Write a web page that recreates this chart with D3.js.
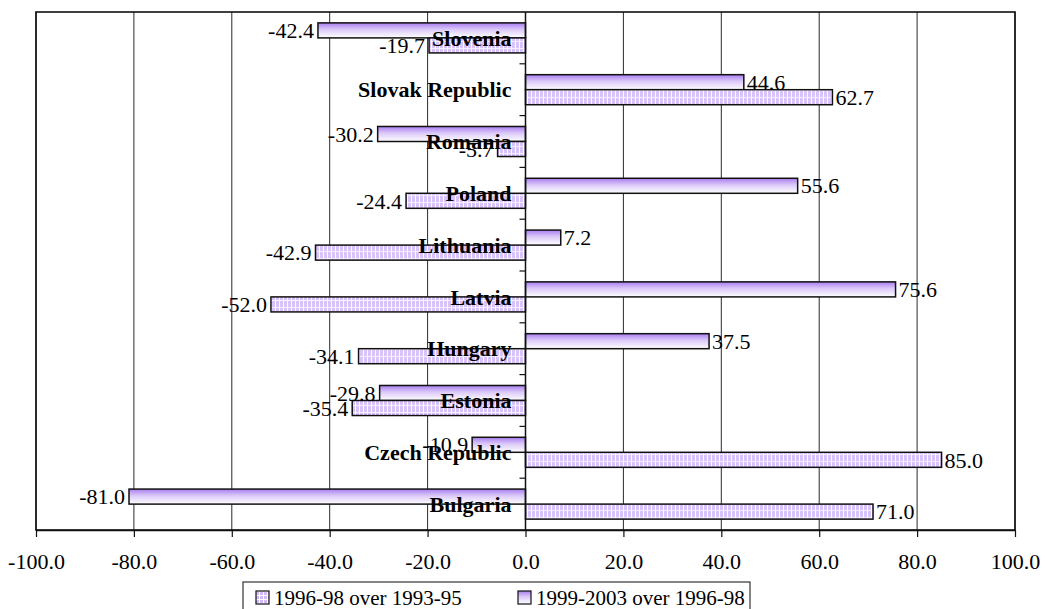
<!DOCTYPE html>
<html>
<head>
<meta charset="utf-8">
<script src="https://cdn.jsdelivr.net/npm/d3@7"></script>
<style>
  html, body { margin: 0; padding: 0; background: #fff; }
  svg { display: block; }
  text { font-family: "Liberation Serif", "Times New Roman", serif; fill: #000; }
</style>
</head>
<body>
<svg id="chart" width="1045" height="609"></svg>
<script>
// Countries, listed top to bottom
const categories = ["Slovenia", "Slovak Republic", "Romania", "Poland", "Lithuania",
                    "Latvia", "Hungary", "Estonia", "Czech Republic", "Bulgaria"];
// Percentage change, 1996-98 over 1993-95 (lower bar of each pair)
const change9698 = [-19.7, 62.7, -5.7, -24.4, -42.9, -52.0, -34.1, -35.4, 85.0, 71.0];
// Percentage change, 1999-2003 over 1996-98 (upper bar of each pair)
const change9903 = [-42.4, 44.6, -30.2, 55.6, 7.2, 75.6, 37.5, -29.8, -10.9, -81.0];
const seriesNames = ["1996-98 over 1993-95", "1999-2003 over 1996-98"];
const xTicks = [-100, -80, -60, -40, -20, 0, 20, 40, 60, 80, 100];

// One decimal, plain hyphen for negatives
const fmt = d3.formatLocale({ decimal: ".", thousands: ",", grouping: [3],
  currency: ["", ""], minus: "-" }).format(".1f");

const svg = d3.select("#chart");
const plot = { left: 36, right: 1015, top: 12, bottom: 530 };

const x = d3.scaleLinear().domain([-100, 100]).range([plot.left, plot.right]);
const y = d3.scaleBand().domain(categories).range([plot.top, plot.bottom])
  .paddingInner(0.42).paddingOuter(0.21);
// In each pair the 1999-2003 bar ("a") sits on top
const sub = d3.scaleBand().domain(["a", "b"]).range([0, y.bandwidth()]);

// Fills: gradient for the later period, lattice pattern for the earlier one
const defs = svg.append("defs");
const grad = defs.append("linearGradient").attr("id", "gradFill")
  .attr("x1", 0).attr("y1", 0).attr("x2", 0).attr("y2", 1);
grad.append("stop").attr("offset", "0%").attr("stop-color", "#a97df0");
grad.append("stop").attr("offset", "45%").attr("stop-color", "#dccaf9");
grad.append("stop").attr("offset", "100%").attr("stop-color", "#ffffff");

const pat = defs.append("pattern").attr("id", "gridFill")
  .attr("patternUnits", "userSpaceOnUse").attr("width", 4).attr("height", 7);
pat.append("rect").attr("width", 4).attr("height", 7).attr("fill", "#d8c3fa");
pat.append("rect").attr("x", 3).attr("width", 1).attr("height", 7).attr("fill", "#ffffff");
pat.append("rect").attr("y", 6).attr("width", 4).attr("height", 1).attr("fill", "#f4eefe");

const legPat = defs.append("pattern").attr("id", "gridFillLegend")
  .attr("patternUnits", "userSpaceOnUse").attr("width", 4).attr("height", 4);
legPat.append("rect").attr("width", 4).attr("height", 4).attr("fill", "#d2b9f9");
legPat.append("rect").attr("x", 3).attr("width", 1).attr("height", 4).attr("fill", "#ffffff");
legPat.append("rect").attr("y", 3).attr("width", 4).attr("height", 1).attr("fill", "#ffffff");

// Vertical gridlines
svg.append("g").selectAll("line").data(xTicks).join("line")
  .attr("x1", d => x(d)).attr("x2", d => x(d))
  .attr("y1", plot.top).attr("y2", plot.bottom)
  .attr("stroke", "#2a2a2a").attr("stroke-width", 1);

// Plot frame
svg.append("rect").attr("x", plot.left).attr("y", plot.top)
  .attr("width", plot.right - plot.left).attr("height", plot.bottom - plot.top)
  .attr("fill", "none").attr("stroke", "#111").attr("stroke-width", 1.6);

// Bars
const barData = [];
categories.forEach((c, i) => {
  barData.push({ c, key: "a", v: change9903[i] });
  barData.push({ c, key: "b", v: change9698[i] });
});

svg.append("g").selectAll("rect").data(barData).join("rect")
  .attr("x", d => x(Math.min(0, d.v)))
  .attr("y", d => y(d.c) + sub(d.key))
  .attr("width", d => Math.abs(x(d.v) - x(0)))
  .attr("height", sub.bandwidth())
  .attr("fill", d => d.key === "a" ? "url(#gradFill)" : "url(#gridFill)")
  .attr("stroke", "#111").attr("stroke-width", 1.5);

// Category axis at zero with ticks between countries
svg.append("line").attr("x1", x(0)).attr("x2", x(0))
  .attr("y1", plot.top).attr("y2", plot.bottom)
  .attr("stroke", "#111").attr("stroke-width", 1.5);
const bounds = categories.map(c => y(c) - y.step() * y.paddingInner() / 2).slice(1);
svg.append("g").selectAll("line").data(bounds).join("line")
  .attr("x1", x(0) - 6).attr("x2", x(0))
  .attr("y1", d => d).attr("y2", d => d)
  .attr("stroke", "#111").attr("stroke-width", 1.2);

// Value labels
svg.append("g").selectAll("text").data(barData).join("text")
  .attr("x", d => d.v < 0 ? x(d.v) - 4 : x(d.v) + 3)
  .attr("y", d => y(d.c) + sub(d.key) + sub.bandwidth() / 2)
  .attr("dy", "0.35em")
  .attr("text-anchor", d => d.v < 0 ? "end" : "start")
  .style("font-size", "22px")
  .text(d => fmt(d.v));

// Country names
svg.append("g").selectAll("text").data(categories).join("text")
  .attr("x", x(0) - 14)
  .attr("y", d => y(d) + y.bandwidth() / 2)
  .attr("dy", "0.35em")
  .attr("text-anchor", "end")
  .style("font-size", "22px").style("font-weight", "bold")
  .text(d => d);

// Value axis
const xAxis = d3.axisBottom(x).tickValues(xTicks).tickFormat(fmt)
  .tickSize(7).tickSizeOuter(0);
const gx = svg.append("g").attr("transform", `translate(0,${plot.bottom})`).call(xAxis);
gx.select(".domain").attr("stroke", "#111").attr("stroke-width", 1.6);
gx.selectAll(".tick line").attr("stroke", "#111").attr("stroke-width", 1.2);
gx.selectAll(".tick text").attr("y", 23).attr("dy", "0.71em")
  .style("font-size", "22px").style("font-family", "'Liberation Serif', serif").attr("fill", "#000");

// Legend
const leg = svg.append("g");
leg.append("rect").attr("x", 243).attr("y", 582).attr("width", 507).attr("height", 40)
  .attr("fill", "#fff").attr("stroke", "#333").attr("stroke-width", 1.2);
const legItems = [
  { name: seriesNames[0], fill: "url(#gridFillLegend)", x: 256 },
  { name: seriesNames[1], fill: "url(#gradFill)", x: 518 }
];
legItems.forEach(it => {
  leg.append("rect").attr("x", it.x).attr("y", 591).attr("width", 13).attr("height", 13)
    .attr("fill", it.fill).attr("stroke", "#111").attr("stroke-width", 1.2);
  leg.append("text").attr("x", it.x + 18).attr("y", 605)
    .style("font-size", "21px").text(it.name);
});
</script>
</body>
</html>
